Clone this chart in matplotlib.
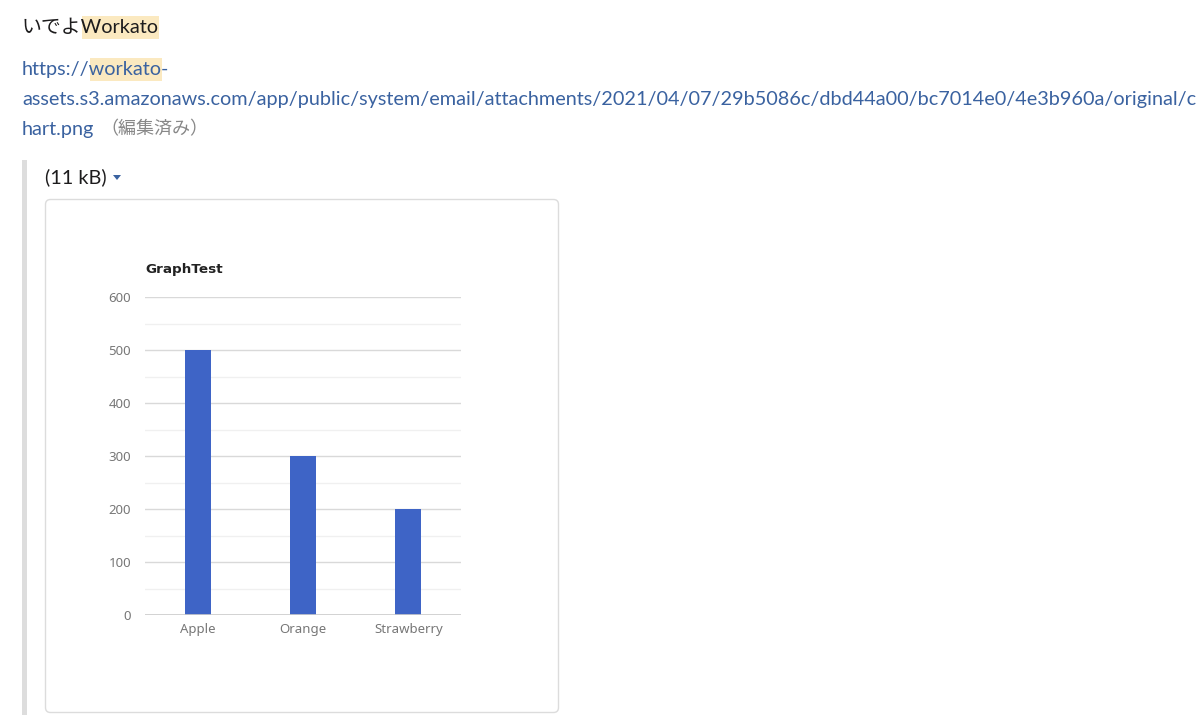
import matplotlib.pyplot as plt
from matplotlib.patches import Rectangle, FancyBboxPatch, Polygon

# chart data
categories = ["Apple", "Orange", "Strawberry"]
values = [500, 300, 200]
yticks = [0, 100, 200, 300, 400, 500, 600]
title = "GraphTest"

# message text
first_line = ("いでよ", "Workato")
url_lines = [
    ("https://", "workato", "-"),
    ("assets.s3.amazonaws.com/app/public/system/email/attachments/2021/04/07/29b5086c/dbd44a00/bc7014e0/4e3b960a/original/c", "", ""),
    ("hart.png", "", ""),
]

plt.rcParams['font.family'] = ['Lato', 'Noto Sans CJK JP', 'DejaVu Sans']

W, H = 1200, 726
fig = plt.figure(figsize=(12, 7.26), dpi=100)
bg = fig.add_axes([0, 0, 1, 1])
bg.set_xlim(0, W)
bg.set_ylim(H, 0)
bg.axis('off')
renderer = fig.canvas.get_renderer()

link = '#3a62a0'
hl = '#fbe9c0'
fs = 14.3


def width(s, size=fs):
    t = bg.text(0, 0, s, fontsize=size)
    w = t.get_window_extent(renderer).width
    t.remove()
    return w


def line(x, y, pre, word, post, color, size=fs):
    # one text per line, highlight box measured from the prefix
    t = bg.text(x, y, pre + word + post, color=color, fontsize=size, va='center', ha='left', zorder=3)
    if word:
        x0 = x + width(pre + word) - width(word) if pre else x
        x1 = x + width(pre + word)
        bg.add_patch(Rectangle((x0, y - 11.5), x1 - x0, 23, color=hl, zorder=2, lw=0))
    return x + t.get_window_extent(renderer).width


line(22, 27, first_line[0], first_line[1], "", '#1d1c1d')

for i, (pre, word, post) in enumerate(url_lines):
    x = line(22, 69 + 30 * i, pre, word, post, link)
bg.text(x + 6, 129, "（編集済み）", color='#888888', fontsize=13, va='center', ha='left')

# attachment block
bg.add_patch(Rectangle((22, 160), 5, 555, color='#dddddd', lw=0))
bg.text(45, 177, "(11 kB)", color='#1d1c1d', fontsize=14.3, va='center', ha='left')
bg.add_patch(Polygon([(113, 175), (121, 175), (117, 180)], closed=True, color=link, lw=0))
bg.add_patch(FancyBboxPatch((45.5, 199.5), 513, 513, boxstyle="round,pad=0,rounding_size=5",
                            facecolor='white', edgecolor='#dcdcdc', lw=1, zorder=1))

# chart
ax = fig.add_axes([145 / W, (H - 615) / H, 316 / W, 318 / H])
ax.bar(range(len(categories)), values, width=0.25, color='#3e64c6', zorder=3)
ax.set_xlim(-0.5, len(categories) - 0.5)
ax.set_ylim(0, 600)
ax.set_yticks(yticks)
ax.set_yticks([50, 150, 250, 350, 450, 550], minor=True)
ax.set_xticks(range(len(categories)))
ax.set_xticklabels(categories)
for sp in ax.spines.values():
    sp.set_visible(False)
ax.grid(axis='y', which='major', color='#d9d9d9', lw=1, zorder=0)
ax.grid(axis='y', which='minor', color='#f0f0f0', lw=1, zorder=0)
ax.axhline(0, color='#cccccc', lw=1.2, zorder=4)
ax.tick_params(which='both', length=0)
ax.tick_params(axis='y', pad=10, labelsize=9.5, labelcolor='#777777')
ax.tick_params(axis='x', pad=6, labelsize=9.5, labelcolor='#777777')
for lab in ax.get_xticklabels() + ax.get_yticklabels():
    lab.set_family('Noto Sans')
bg.text(145, 269, title, fontsize=9.7, fontweight='bold', family='DejaVu Sans',
        color='#222222', va='center', ha='left')

plt.savefig("out.png", dpi=100)
